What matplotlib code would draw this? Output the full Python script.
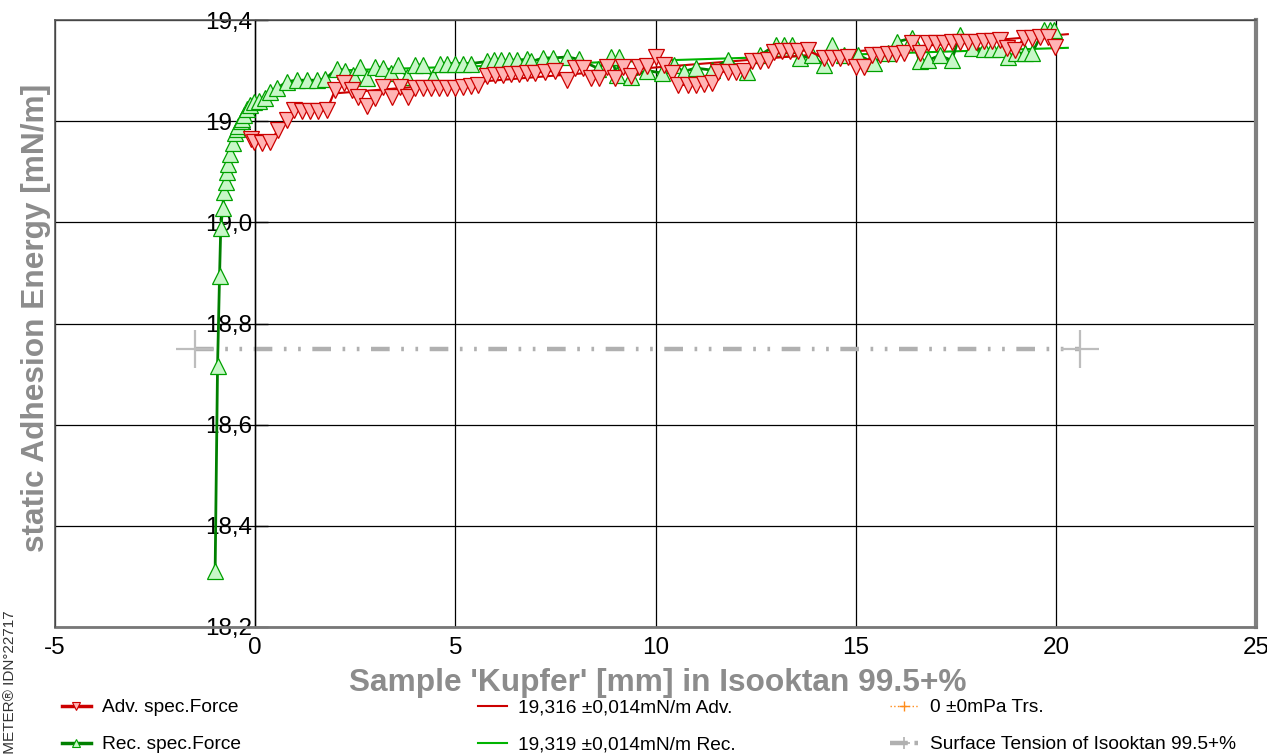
import matplotlib
matplotlib.use("Agg")
import matplotlib.pyplot as plt
from matplotlib.lines import Line2D
from matplotlib.ticker import FuncFormatter

plt.rcParams['font.family'] = ['Liberation Sans', 'DejaVu Sans']

# ---------------- data ----------------
rec_x = [-1.00, -0.94, -0.89, -0.86, -0.81, -0.78, -0.74, -0.71, -0.67, -0.62,
         -0.56, -0.50, -0.45, -0.42, -0.36, -0.33, -0.29, -0.21, -0.12, -0.04,
         0.10, 0.25, 0.37, 0.55, 0.79, 1.04, 1.29, 1.54, 1.75, 2.04,
         2.25, 2.45, 2.62, 2.79, 3.00, 3.20, 3.40, 3.58, 3.79, 4.00,
         4.20, 4.45, 4.62, 4.80, 5.00, 5.20, 5.40, 5.79, 5.96, 6.15,
         6.35, 6.55, 6.80, 6.90, 7.20, 7.45, 7.80, 8.10, 8.57, 8.90,
         9.03, 9.10, 9.40, 9.80, 10.16, 10.45, 10.70, 11.00, 11.40, 11.80,
         12.28, 12.60, 13.00, 13.20, 13.40, 13.60, 13.90, 14.20, 14.40, 14.70,
         15.07, 15.45, 15.80, 16.03, 16.40, 16.60, 16.80, 17.10, 17.40, 17.60,
         17.90, 18.20, 18.40, 18.60, 18.80, 19.00, 19.24, 19.40, 19.70, 19.85,
         19.95]
rec_y = [18.310, 18.715, 18.893, 18.988, 19.028, 19.060, 19.080, 19.100, 19.115, 19.136,
         19.156, 19.176, 19.185, 19.190, 19.200, 19.205, 19.212, 19.225, 19.232, 19.238,
         19.240, 19.245, 19.258, 19.265, 19.278, 19.281, 19.281, 19.281, 19.283, 19.304,
         19.300, 19.292, 19.308, 19.285, 19.308, 19.305, 19.296, 19.311, 19.288, 19.311,
         19.311, 19.288, 19.314, 19.314, 19.314, 19.314, 19.314, 19.318, 19.320, 19.320,
         19.320, 19.321, 19.322, 19.318, 19.325, 19.325, 19.327, 19.322, 19.304, 19.327,
         19.291, 19.327, 19.288, 19.300, 19.295, 19.311, 19.298, 19.305, 19.301, 19.321,
         19.298, 19.330, 19.350, 19.350, 19.350, 19.324, 19.330, 19.311, 19.350, 19.330,
         19.331, 19.315, 19.335, 19.357, 19.364, 19.318, 19.320, 19.330, 19.320, 19.370,
         19.345, 19.342, 19.342, 19.342, 19.327, 19.335, 19.334, 19.334, 19.380, 19.380,
         19.380]

adv_x = [-0.10, -0.04, 0.17, 0.37, 0.58, 0.79, 0.96, 1.17, 1.37, 1.58,
         1.79, 2.00, 2.21, 2.42, 2.58, 2.79, 3.00, 3.20, 3.41, 3.62,
         3.83, 4.00, 4.20, 4.40, 4.60, 4.80, 5.00, 5.20, 5.40, 5.57,
         5.79, 6.00, 6.20, 6.40, 6.60, 6.80, 7.00, 7.25, 7.50, 7.80,
         8.00, 8.20, 8.40, 8.60, 8.78, 9.00, 9.20, 9.40, 9.60, 9.80,
         10.00, 10.20, 10.40, 10.57, 10.80, 11.00, 11.20, 11.40, 11.57, 11.80,
         12.00, 12.20, 12.40, 12.60, 12.80, 12.95, 13.15, 13.35, 13.55, 13.80,
         14.20, 14.40, 14.60, 14.80, 15.00, 15.20, 15.40, 15.60, 15.80, 16.00,
         16.20, 16.40, 16.60, 16.80, 17.00, 17.20, 17.40, 17.60, 17.80, 18.00,
         18.20, 18.40, 18.60, 18.78, 18.98, 19.20, 19.40, 19.60, 19.80, 19.98]
adv_y = [19.165, 19.159, 19.156, 19.159, 19.183, 19.202, 19.222, 19.220, 19.220, 19.220,
         19.222, 19.262, 19.276, 19.262, 19.248, 19.229, 19.245, 19.268, 19.248, 19.268,
         19.248, 19.265, 19.265, 19.265, 19.266, 19.266, 19.266, 19.268, 19.270, 19.272,
         19.290, 19.292, 19.292, 19.293, 19.294, 19.295, 19.296, 19.298, 19.300, 19.281,
         19.305, 19.306, 19.285, 19.285, 19.308, 19.285, 19.308, 19.290, 19.308, 19.310,
         19.327, 19.311, 19.295, 19.272, 19.272, 19.272, 19.273, 19.275, 19.298, 19.298,
         19.298, 19.299, 19.318, 19.318, 19.320, 19.337, 19.338, 19.338, 19.339, 19.340,
         19.325, 19.325, 19.325, 19.327, 19.308, 19.308, 19.331, 19.331, 19.332, 19.332,
         19.334, 19.354, 19.334, 19.354, 19.355, 19.355, 19.356, 19.356, 19.357, 19.357,
         19.358, 19.359, 19.360, 19.344, 19.340, 19.364, 19.365, 19.366, 19.366, 19.347]

adv_fit_x = [2.0, 20.3]
adv_fit_y = [19.255, 19.372]
rec_fit_x = [2.0, 20.3]
rec_fit_y = [19.300, 19.345]

surf_x = [-1.5, 20.6]
surf_y = [18.75, 18.75]

x_ticks = [-5, 0, 5, 10, 15, 20, 25]
y_ticks = [18.2, 18.4, 18.6, 18.8, 19.0, 19.2, 19.4]

labels = ["Adv. spec.Force", "Rec. spec.Force",
          "19,316 \u00b10,014mN/m Adv.", "19,319 \u00b10,014mN/m Rec.",
          "0 \u00b10mPa Trs.", "Surface Tension of Isooktan 99.5+%"]

# ---------------- figure ----------------
W, H = 1267, 756
fig = plt.figure(figsize=(W / 100, H / 100), dpi=100)
ax = fig.add_axes([55 / W, 1 - 627 / H, (1256 - 55) / W, (627 - 20) / H])

red = '#cc0000'
red_face = '#ffb4b4'
green = '#008000'
green_edge = '#00a000'
green_face = '#c8f7c8'
fitgreen = '#00b400'
gray = '#b0b0b0'

# surface tension line
ax.plot(surf_x, surf_y, color=gray, lw=3.2, dashes=[4.2, 2.6, 0.6, 2.6, 0.6, 2.6], zorder=2)
ax.plot(surf_x, surf_y, ls='none', marker='+', ms=28, mew=1.6, color='#bdbdbd', zorder=2)

# fit lines
ax.plot(rec_fit_x, rec_fit_y, color=fitgreen, lw=1.5, zorder=3)
ax.plot(adv_fit_x, adv_fit_y, color=red, lw=1.5, zorder=3)

# data
ax.plot(rec_x, rec_y, color=green, lw=2.0, marker='^', ms=11, mfc=green_face,
        mec=green_edge, mew=0.9, zorder=4)
ax.plot(adv_x, adv_y, color=red, lw=1.6, marker='v', ms=11, mfc=red_face,
        mec=red, mew=0.9, zorder=5)

ax.set_xlim(-5, 25)
ax.set_ylim(18.2, 19.4)
ax.set_xticks(x_ticks)
ax.set_yticks(y_ticks)
ax.yaxis.set_major_formatter(FuncFormatter(lambda v, p: f"{v:.1f}".replace('.', ',')))
ax.xaxis.set_major_formatter(FuncFormatter(lambda v, p: f"{v:g}"))
ax.grid(True, color='black', lw=0.9, zorder=1)
ax.set_axisbelow(True)

ax.spines['left'].set_position(('data', 0))
ax.spines['left'].set_linewidth(1.0)
ax.spines['top'].set_linewidth(1.2)
ax.spines['top'].set_color('#555555')
ax.spines['right'].set_linewidth(3)
ax.spines['right'].set_color('#808080')
ax.spines['bottom'].set_linewidth(2)
ax.spines['bottom'].set_color('#777777')
ax.plot([0, 0], [0, 1], transform=ax.transAxes, color='#555555', lw=1.2, clip_on=False, zorder=6)

ax.tick_params(axis='y', direction='in', length=9, width=1, pad=2, labelsize=17.5, zorder=1)
ax.tick_params(axis='x', length=0, pad=7, labelsize=17.5)

fig.text(36 / W, 1 - 318 / H, "static Adhesion Energy [mN/m]", rotation=90,
         ha='center', va='center', fontsize=22.8, fontweight='bold', color='#8c8c8c')
fig.text(658 / W, 1 - 683 / H, "Sample 'Kupfer' [mm] in Isooktan 99.5+%",
         ha='center', va='center', fontsize=22.8, fontweight='bold', color='#8c8c8c')
fig.text(10 / W, 1 - 610 / H, "IMETER\u00ae IDN\u00b022717", rotation=90,
         ha='center', va='top', fontsize=11, color='#333333')

# ---------------- legend ----------------
h_adv = Line2D([], [], color=red, lw=2.5, marker='v', ms=6, mfc=red_face, mec=red, mew=0.8)
h_rec = Line2D([], [], color=green, lw=2.5, marker='^', ms=6, mfc=green_face, mec=green_edge, mew=0.8)
h_afit = Line2D([], [], color=red, lw=1.5)
h_rfit = Line2D([], [], color=fitgreen, lw=1.5)
h_trs = Line2D([], [], color='#ff8c1a', lw=1, ls=':', marker='+', ms=7, mew=1)
h_surf = Line2D([], [], color=gray, lw=3.2, dashes=[4, 1.5, 0.8, 1.5], marker='+', ms=9, mew=1.2)

legend_font = {'size': 13.8}
cols = [([h_adv, h_rec], labels[0:2], 62), ([h_afit, h_rfit], labels[2:4], 478),
        ([h_trs, h_surf], labels[4:6], 890)]
for hs, ls_, xpx in cols:
    leg = fig.legend(hs, ls_, loc='upper left', bbox_to_anchor=(xpx / W, 1 - 699 / H),
                     frameon=False, prop=legend_font, handlelength=1.5, handletextpad=0.6,
                     borderpad=0, borderaxespad=0, labelspacing=1.02, numpoints=1)

fig.savefig("out.png", dpi=100)
